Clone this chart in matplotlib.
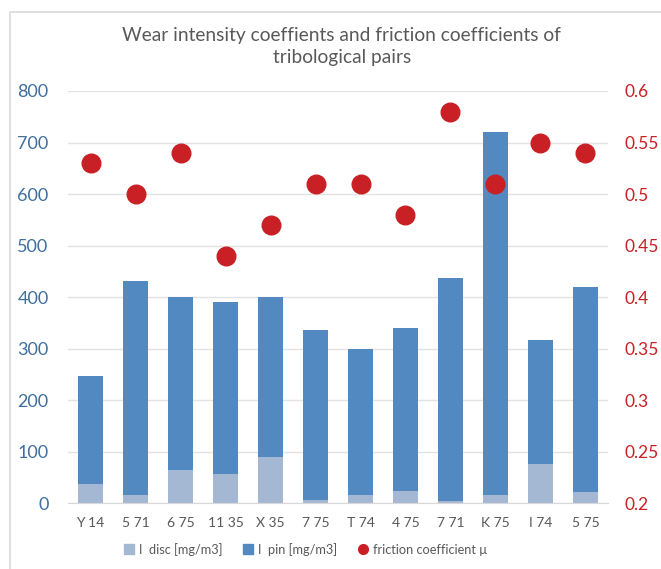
import matplotlib.pyplot as plt
from matplotlib.patches import Rectangle
from matplotlib.lines import Line2D
import numpy as np

# data
pairs = ['Y 14', '5 71', '6 75', '11 35', 'X 35', '7 75',
         'T 74', '4 75', '7 71', 'K 75', 'I 74', '5 75']
i_disc = [37, 17, 65, 56, 90, 6, 16, 24, 4, 17, 76, 21]
i_pin = [210, 414, 335, 335, 310, 330, 284, 316, 433, 703, 241, 399]
friction = [0.53, 0.50, 0.54, 0.44, 0.47, 0.51, 0.51, 0.48, 0.58, 0.51, 0.55, 0.54]
friction_ticks = [0.2, 0.25, 0.3, 0.35, 0.4, 0.45, 0.5, 0.55, 0.6]

disc_color = '#A5B8D3'
pin_color = '#5289C0'
dot_color = '#C82024'
grey_text = '#595959'

plt.rcParams['font.family'] = ['Lato', 'DejaVu Sans']

fig = plt.figure(figsize=(6.61, 5.69), dpi=100)
ax = fig.add_axes([0.1029, 0.1155, 0.8169, 0.7246])

# chart border (Excel style)
fig.patches.append(Rectangle((10 / 661, -0.05), 1.2, 1 - 12 / 569 + 0.05,
                             transform=fig.transFigure, fill=False,
                             edgecolor='#D9D9D9', linewidth=1.2))

x = np.arange(len(pairs))
ax.bar(x, i_disc, width=0.57, color=disc_color, zorder=2)
ax.bar(x, i_pin, width=0.57, bottom=i_disc, color=pin_color, zorder=2)

ax.set_ylim(0, 800)
ax.set_xlim(-0.5, len(pairs) - 0.5)
ax.set_yticks(range(0, 801, 100))
ax.grid(axis='y', color='#E3E3E3', linewidth=1, zorder=0)
ax.set_axisbelow(True)
for s in ['top', 'left', 'right']:
    ax.spines[s].set_visible(False)
ax.spines['bottom'].set_color('#D9D9D9')
ax.tick_params(axis='y', length=0, pad=14, labelsize=13, labelcolor='#3F6F9F')
ax.tick_params(axis='x', length=0, pad=10, labelsize=10, labelcolor=grey_text)
ax.set_xticks(x)
ax.set_xticklabels(pairs)

ax2 = ax.twinx()
ax2.scatter(x, friction, s=180, color=dot_color, zorder=3)
ax2.set_ylim(0.2, 0.6)
ax2.set_yticks(friction_ticks)
ax2.set_yticklabels([f'{t:g}' for t in friction_ticks])
for s in ['top', 'left', 'right', 'bottom']:
    ax2.spines[s].set_visible(False)
ax2.tick_params(axis='y', length=0, pad=12, labelsize=12.5, labelcolor=dot_color)

fig.text(0.517, 0.918, 'Wear intensity coeffients and friction coefficients of\ntribological pairs',
         ha='center', va='center', fontsize=13.8, color=grey_text, linespacing=1.4)

handles = [
    Line2D([], [], marker='s', linestyle='none', markersize=7, color=disc_color),
    Line2D([], [], marker='s', linestyle='none', markersize=7, color=pin_color),
    Line2D([], [], marker='o', linestyle='none', markersize=7, color=dot_color),
]
labels = ['I  disc [mg/m3]', 'I  pin [mg/m3]', 'friction coefficient \u00b5']
fig.legend(handles, labels, loc='center', bbox_to_anchor=(0.462, 0.035), ncol=3,
           frameon=False, fontsize=9.2, handlelength=0.8, handletextpad=0.4,
           columnspacing=1.6, labelcolor=grey_text)

fig.savefig('out.png', dpi=100)
